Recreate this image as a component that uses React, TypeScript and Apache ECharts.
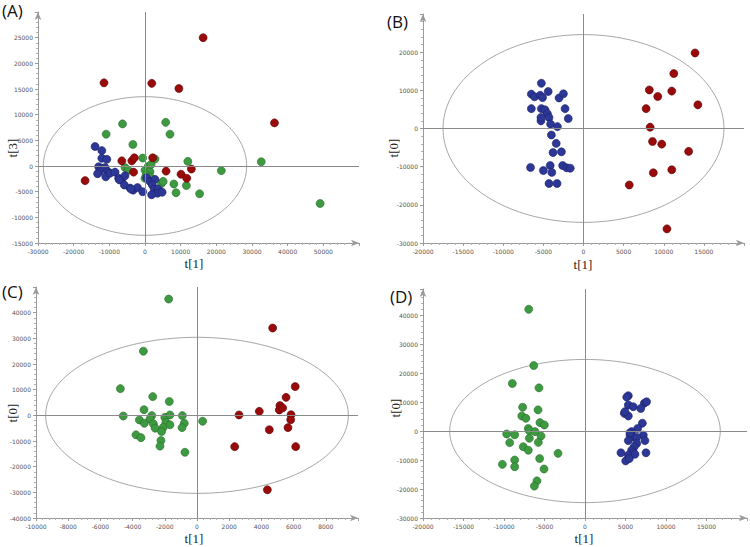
import React, { useEffect, useRef } from "react";
import * as echarts from "echarts";

// ---------- Data ----------
const aRed = [[16300,25000],[-11500,16200],[1900,16100],[9500,15100],[36300,8400],[-16800,-2850],[-6500,1000],[-3700,1000],[-3000,1600],[-3200,-1200],[2150,1600],[5900,-1000],[10100,-1600],[11700,-2400],[13000,-600]];
const aGreen = [[-6300,8200],[5800,8500],[-10900,6200],[7000,6200],[-3400,4200],[-650,1550],[2800,1350],[-5600,-300],[-4700,-800],[0,-800],[900,-100],[1400,-1100],[300,-1750],[0,-2400],[1400,-2100],[1700,300],[4600,-3400],[5100,-3000],[8100,-3500],[8700,-5200],[11600,-3800],[12000,900],[15300,-5400],[21400,-900],[32600,840],[49100,-7300]];
const aBlue = [[-14000,3800],[-12100,3000],[-12100,1500],[-10700,1300],[-13000,-130],[-12100,-450],[-11200,-300],[-12800,-1100],[-10400,-1100],[-11000,-2100],[-9800,-1400],[-8400,-1200],[-7400,-2400],[-6500,-2700],[-5600,-1900],[-5800,-3700],[-4200,-4300],[-3300,-4700],[-2100,-4200],[-650,-5000],[450,-2300],[1400,-3000],[2800,-2600],[2050,-3700],[2600,-4500],[3700,-4500],[3500,-5300],[1850,-5600],[4800,-5100],[-13300,-1500],[-7200,-2700],[-3900,-4500]];

const bRed = [[13900,19800],[11250,14400],[8200,10100],[9250,8400],[11000,9800],[14250,6200],[7800,5200],[8300,350],[8600,-3400],[9750,-4100],[13100,-6000],[8700,-11600],[11000,-10800],[5700,-14800],[10400,-26300]];
const bBlue = [[-5250,11850],[-6500,9000],[-6100,8300],[-5400,8700],[-5100,8100],[-4400,9700],[-3050,8000],[-2500,9100],[-6500,5200],[-5250,5200],[-4800,4900],[-4500,3900],[-4300,2900],[-5300,2000],[-5300,2900],[-2300,5200],[-1900,2600],[-4100,1150],[-3250,500],[-4000,-1700],[-3400,-3900],[-2750,-6100],[-3800,-6300],[-6600,-10200],[-5000,-11000],[-4150,-9700],[-3950,-11500],[-2600,-9700],[-2100,-10300],[-1650,-10400],[-4300,-14400],[-3300,-14400]];

const cGreen = [[-1760,45300],[-3330,25000],[-4760,10400],[-2750,7300],[-1720,5400],[-3290,2200],[-4580,-250],[-3580,-1800],[-3270,-3100],[-2810,-100],[-2920,-1400],[-2710,-3300],[-2600,-5000],[-2000,-800],[-1680,150],[-1930,-2700],[-2100,-4700],[-2200,-6300],[-1680,-3700],[-910,-100],[-790,-3100],[-930,-4800],[350,-2300],[-3790,-7600],[-3480,-8700],[-2240,-9800],[-2300,-12000],[-750,-14400]];
const cRed = [[4700,34000],[6100,11200],[5530,7000],[5150,3800],[3870,1550],[5110,2100],[5320,2900],[2610,150],[5840,250],[5820,-1700],[4490,-5600],[5650,-4800],[2340,-12200],[6130,-12200],[4370,-29000]];

const dGreen = [[-6950,42000],[-6330,22600],[-8970,16400],[-5680,14900],[-7700,8200],[-5800,7300],[-7800,5200],[-7300,4400],[-5560,2900],[-5020,2100],[-7000,900],[-6870,100],[-6170,-200],[-9670,-1000],[-8680,-1300],[-5430,-1700],[-6870,-2500],[-5760,-3900],[-9300,-4000],[-7620,-5400],[-7000,-6600],[-3330,-7700],[-5600,-9500],[-8680,-10000],[-10200,-11500],[-8680,-12300],[-5060,-13100],[-5930,-17200],[-6250,-19000]];
const dBlue = [[5350,12200],[5150,11700],[5350,9000],[5960,8400],[7320,9600],[7600,10100],[6880,7800],[4850,6100],[5350,5200],[4940,6700],[7080,2700],[6500,900],[5760,-200],[5560,-1400],[5840,-2000],[7200,-1400],[6380,-2200],[5350,-3300],[7400,-3300],[6380,-4300],[6080,-5400],[5760,-6600],[4440,-7500],[5960,-7500],[7530,-7500],[5350,-8300],[6170,-8000],[5020,-10300],[5470,-9500],[5560,-600]];

// Hotelling ellipse radii [rx, ry] per panel
const ellipseRadii = [[28500, 13500], [17500, 24600], [9400, 30400], [16700, 24700]];

// axis ranges: [min, max, interval, lastLabel]
const xRanges = [[-30000, 60000, 10000, 50000], [-20000, 20000, 5000, 15000], [-10000, 10000, 2000, 8000], [-20000, 20000, 5000, 15000]];
const yRanges = [[-15000, 30000, 5000, 25000], [-30000, 30000, 10000, 20000], [-40000, 50000, 10000, 40000], [-30000, 49000, 10000, 40000]];
const panelTitles = ["(A)", "(B)", "(C)", "(D)"];
const yNames = ["t[3]", "t[0]", "t[0]", "t[0]"];
const xName = "t[1]";

const COLORS = {
  red: { fill: "#990a0a", border: "#5e0000" },
  green: { fill: "#3d9a40", border: "#276b2a" },
  blue: { fill: "#2d3796", border: "#1a2068" },
};

const grids = [
  { left: 38, top: 12, width: 321, height: 231 },
  { left: 423, top: 14, width: 321, height: 229 },
  { left: 36, top: 287, width: 322, height: 231 },
  { left: 423, top: 289, width: 324, height: 229 },
];

function ellipsePoints(rx: number, ry: number) {
  const pts: number[][] = [];
  const n = 160;
  for (let i = 0; i <= n; i++) {
    const t = (i / n) * Math.PI * 2;
    pts.push([rx * Math.cos(t), ry * Math.sin(t)]);
  }
  return pts;
}

export default function App() {
  const ref = useRef<HTMLDivElement>(null);
  useEffect(() => {
    if (!ref.current) return;
    const chart = echarts.init(ref.current, null, { renderer: "svg" });
    const axisLineStyle = { color: "#9a9a9a", width: 1 };
    const labelStyle = { color: "#555", fontSize: 6, fontFamily: "DejaVu Sans" };

    const xAxis = xRanges.map((r, i) => ({
      type: "value",
      gridIndex: i,
      min: r[0],
      max: r[1],
      interval: r[2],
      splitLine: { show: false },
      axisLine: { show: true, onZero: false, lineStyle: axisLineStyle, symbol: ["none", "arrow"], symbolSize: [5, 8] },
      axisTick: { show: true, length: 3, lineStyle: { color: "#9a9a9a" } },
      minorTick: { show: true, splitNumber: 5, length: 2, lineStyle: { color: "#b0b0b0" } },
      axisLabel: {
        ...labelStyle,
        margin: 5,
        showMinLabel: true,
        showMaxLabel: true,
        formatter: (v: number) => (v > r[3] ? "" : String(v)),
      },
    }));
    const yAxis = yRanges.map((r, i) => ({
      type: "value",
      gridIndex: i,
      min: r[0],
      max: r[1],
      interval: r[2],
      splitLine: { show: false },
      axisLine: { show: true, onZero: false, lineStyle: axisLineStyle, symbol: ["none", "arrow"], symbolSize: [5, 8] },
      axisTick: { show: true, length: 3, lineStyle: { color: "#9a9a9a" } },
      minorTick: { show: true, splitNumber: 5, length: 2, lineStyle: { color: "#b0b0b0" } },
      axisLabel: {
        ...labelStyle,
        margin: 5,
        showMinLabel: true,
        showMaxLabel: true,
        formatter: (v: number) => (v > r[3] ? "" : String(v)),
      },
    }));

    const scatter = (data: number[][], idx: number, c: { fill: string; border: string }) => ({
      type: "scatter",
      xAxisIndex: idx,
      yAxisIndex: idx,
      data,
      symbolSize: 8,
      z: 3,
      itemStyle: { color: c.fill, borderColor: c.border, borderWidth: 0.6, opacity: 1 },
    });

    const ellipseSeries = ellipseRadii.map((r, i) => ({
      type: "line",
      xAxisIndex: i,
      yAxisIndex: i,
      data: ellipsePoints(r[0], r[1]),
      showSymbol: false,
      symbol: "none",
      silent: true,
      z: 1,
      lineStyle: { color: "#9c9c9c", width: 0.9 },
      markLine: {
        silent: true,
        symbol: ["none", "none"],
        label: { show: false },
        lineStyle: { color: "#8a8a8a", type: "solid", width: 1 },
        data: [{ xAxis: 0 }, { yAxis: 0 }],
      },
    }));

    const serifFont = '13px "Liberation Serif", "DejaVu Serif", serif';
    const titleFont = '17px "Open Sans", "Liberation Sans", sans-serif';
    const titlePos = [[2, 2], [387, 13], [2, 283], [390, 288]];
    const xNamePos = [[194, 263], [583, 264], [194, 538], [584, 538]];
    const yNamePos = [[12, 148], [393, 148], [12, 413], [395, 408]];

    const graphic: any[] = [];
    panelTitles.forEach((t, i) => {
      graphic.push({
        type: "text",
        x: titlePos[i][0],
        y: titlePos[i][1],
        style: { text: t, font: titleFont, fill: "#111", textAlign: "left", textVerticalAlign: "top" },
      });
      graphic.push({
        type: "text",
        x: xNamePos[i][0],
        y: xNamePos[i][1],
        style: { text: xName, font: serifFont, fill: "#222", textAlign: "center", textVerticalAlign: "middle" },
      });
      graphic.push({
        type: "text",
        x: yNamePos[i][0],
        y: yNamePos[i][1],
        rotation: Math.PI / 2,
        style: { text: yNames[i], font: serifFont, fill: "#222", textAlign: "center", textVerticalAlign: "middle" },
      });
    });

    chart.setOption({
      animation: false,
      backgroundColor: "#ffffff",
      grid: grids,
      xAxis,
      yAxis,
      graphic,
      series: [
        ...ellipseSeries,
        scatter(aGreen, 0, COLORS.green),
        scatter(aBlue, 0, COLORS.blue),
        scatter(aRed, 0, COLORS.red),
        scatter(bBlue, 1, COLORS.blue),
        scatter(bRed, 1, COLORS.red),
        scatter(cGreen, 2, COLORS.green),
        scatter(cRed, 2, COLORS.red),
        scatter(dGreen, 3, COLORS.green),
        scatter(dBlue, 3, COLORS.blue),
      ],
    });
    return () => chart.dispose();
  }, []);
  return (
    <div
      ref={ref}
      style={{ position: "fixed", left: 0, top: 0, width: 750, height: 547, background: "#fff" }}
    />
  );
}
